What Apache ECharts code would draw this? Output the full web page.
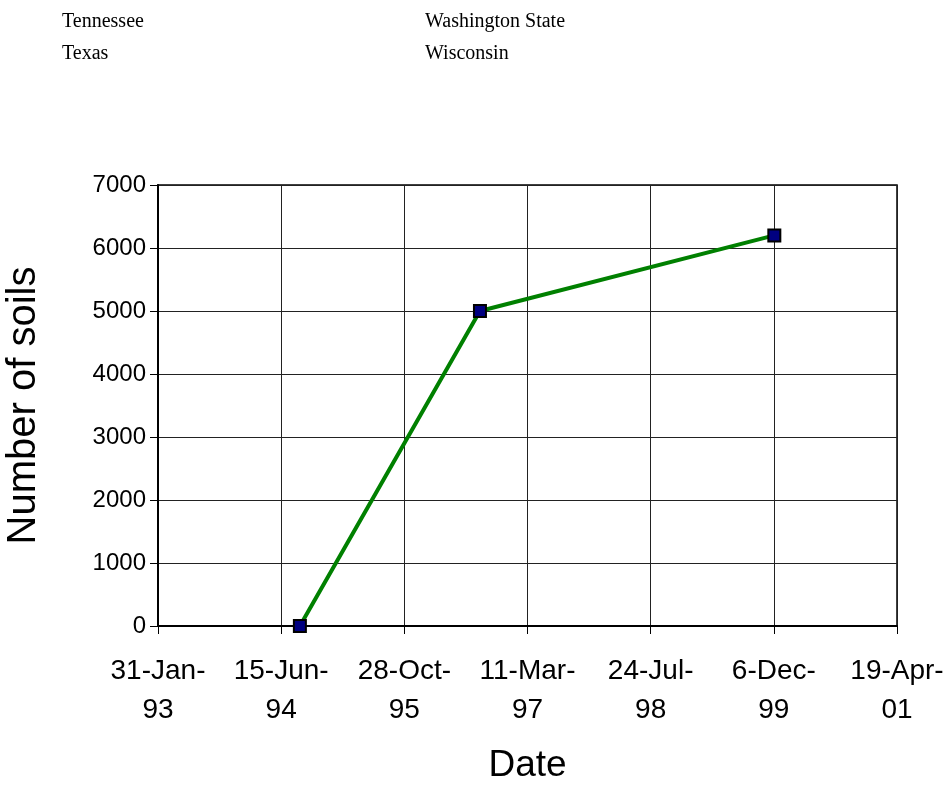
<!DOCTYPE html>
<html><head><meta charset="utf-8">
<script src="https://cdn.jsdelivr.net/npm/echarts@6/dist/echarts.min.js"></script>
<style>html,body{margin:0;padding:0;background:#fff}#c{width:949px;height:785px}</style>
</head><body><div id="c"></div>
<script>
// Excel serial dates (days since 1899-12-30)
const dates = [34576, 35307, 36502];
const soils = [0, 5000, 6200];
const xMin = 34000, xMax = 37000, xStep = 500;
const yTicks = [0, 1000, 2000, 3000, 4000, 5000, 6000, 7000];
const headerLeft = ['Tennessee', 'Texas'];
const headerRight = ['Washington State', 'Wisconsin'];
const months = ['Jan','Feb','Mar','Apr','May','Jun','Jul','Aug','Sep','Oct','Nov','Dec'];

function fmt(v) {
  const d = new Date(Date.UTC(1899, 11, 30) + Math.round(v) * 86400000);
  const yy = String(d.getUTCFullYear() % 100).padStart(2, '0');
  return d.getUTCDate() + '-' + months[d.getUTCMonth()] + '-\n' + yy;
}

const chart = echarts.init(document.getElementById('c'));
chart.setOption({
  animation: false,
  backgroundColor: '#fff',
  graphic: [
    {type: 'text', left: 62, top: 6, style: {text: headerLeft.join('\n'), font: '20px "Liberation Serif"', lineHeight: 32, fill: '#000'}},
    {type: 'text', left: 425, top: 6, style: {text: headerRight.join('\n'), font: '20px "Liberation Serif"', lineHeight: 32, fill: '#000'}}
  ],
  grid: {left: 158, right: 52, top: 185, bottom: 159, show: true, borderColor: '#000', borderWidth: 1.5,
         containLabel: false, outerBoundsMode: 'none'},
  xAxis: {
    type: 'value', min: xMin, max: xMax, interval: xStep,
    name: 'Date', nameLocation: 'middle', nameGap: 121,
    nameTextStyle: {fontFamily: 'Liberation Sans', fontSize: 37, color: '#000'},
    axisLine: {lineStyle: {color: '#000', width: 2}},
    axisTick: {show: true, length: 8, lineStyle: {color: '#000'}},
    axisLabel: {formatter: fmt, fontFamily: 'Liberation Sans', fontSize: 28, color: '#000', lineHeight: 39, margin: 26, showMaxLabel: true, showMinLabel: true},
    splitLine: {show: true, lineStyle: {color: '#222', width: 1}}
  },
  yAxis: {
    type: 'value', min: yTicks[0], max: yTicks[yTicks.length - 1], interval: 1000,
    name: 'Number of soils', nameLocation: 'middle', nameGap: 114,
    nameTextStyle: {fontFamily: 'Liberation Sans', fontSize: 40, color: '#000'},
    axisLine: {show: true, lineStyle: {color: '#000', width: 2}},
    axisTick: {show: true, length: 8, lineStyle: {color: '#000'}},
    axisLabel: {formatter: v => String(v), fontFamily: 'Liberation Sans', fontSize: 24, color: '#000', margin: 12},
    splitLine: {show: true, lineStyle: {color: '#222', width: 1}}
  },
  series: [{
    type: 'line',
    data: dates.map((d, i) => [d, soils[i]]),
    lineStyle: {color: '#008000', width: 4},
    symbol: 'rect', symbolSize: 12,
    itemStyle: {color: '#000080', borderColor: '#000', borderWidth: 2},
    z: 5
  }]
});
</script></body></html>
